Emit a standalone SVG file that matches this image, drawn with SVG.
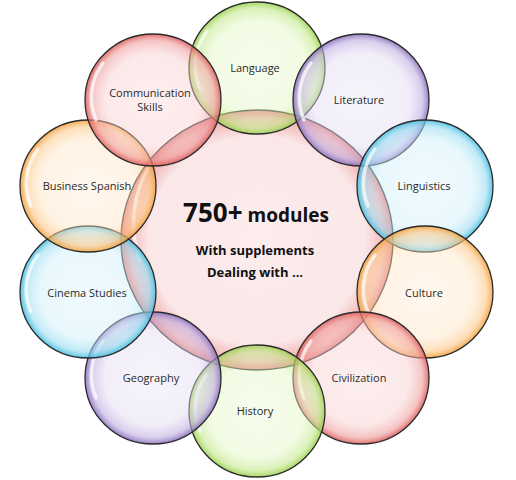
<svg xmlns="http://www.w3.org/2000/svg" width="516" height="480" viewBox="0 0 516 480">
<style>
.b{stroke:#2b2b2b;stroke-width:1.3}
.hl{fill:none;stroke:#ffffff;stroke-width:3.5;stroke-opacity:0.7;stroke-linecap:round}
.lbl{font-family:"Open Sans","Liberation Sans",sans-serif;font-size:11px;fill:#2a2a2a;text-anchor:middle}
.big{font-family:"Open Sans","Liberation Sans",sans-serif;font-weight:bold;fill:#111;text-anchor:middle}
</style>
<defs>
<radialGradient id="gG"><stop offset="0" stop-color="#ecfad6" stop-opacity="0.45"/><stop offset="0.7" stop-color="#e2f6c2" stop-opacity="0.45"/><stop offset="0.9" stop-color="#c2e88a" stop-opacity="0.6"/><stop offset="1" stop-color="#98cf4a" stop-opacity="0.85"/></radialGradient>
<radialGradient id="gP"><stop offset="0" stop-color="#ece6f6" stop-opacity="0.45"/><stop offset="0.7" stop-color="#e2daf2" stop-opacity="0.45"/><stop offset="0.9" stop-color="#bfaee0" stop-opacity="0.6"/><stop offset="1" stop-color="#8669bd" stop-opacity="0.85"/></radialGradient>
<radialGradient id="gC"><stop offset="0" stop-color="#def5fc" stop-opacity="0.45"/><stop offset="0.7" stop-color="#cdeffa" stop-opacity="0.45"/><stop offset="0.9" stop-color="#98dcf0" stop-opacity="0.6"/><stop offset="1" stop-color="#3cbbe0" stop-opacity="0.85"/></radialGradient>
<radialGradient id="gO"><stop offset="0" stop-color="#ffeedb" stop-opacity="0.45"/><stop offset="0.7" stop-color="#ffe4c2" stop-opacity="0.45"/><stop offset="0.9" stop-color="#fcc888" stop-opacity="0.6"/><stop offset="1" stop-color="#f59d35" stop-opacity="0.85"/></radialGradient>
<radialGradient id="gR"><stop offset="0" stop-color="#fbdcdc" stop-opacity="0.45"/><stop offset="0.7" stop-color="#f8cdcd" stop-opacity="0.45"/><stop offset="0.9" stop-color="#ef9d9d" stop-opacity="0.6"/><stop offset="1" stop-color="#dc5858" stop-opacity="0.85"/></radialGradient>
<radialGradient id="gM"><stop offset="0" stop-color="#fcebec" stop-opacity="0.9"/><stop offset="0.8" stop-color="#fae3e4" stop-opacity="0.85"/><stop offset="0.93" stop-color="#f1a9a9" stop-opacity="0.8"/><stop offset="1" stop-color="#df6b6b" stop-opacity="0.9"/></radialGradient>
<path id="hl" d="M -50,-37 A 60 58 0 0 0 -57,20"/>
</defs>
<rect width="516" height="480" fill="#ffffff"/>
<g id="n-center">
<ellipse class="b" cx="257" cy="240" rx="136" ry="130" fill="url(#gM)"/>
<path class="hl" d="M 150,165 A 120 115 0 0 0 140,260" stroke-opacity="0.5"/>
<text class="big" x="256" y="222"><tspan font-size="26">750+</tspan><tspan font-size="19"> modules</tspan></text>
<text class="big" x="255" y="255" font-size="13">With supplements</text>
<text class="big" x="255" y="277" font-size="13">Dealing with ...</text>
</g>
<g id="n-language">
<ellipse class="b" cx="257" cy="68" rx="68" ry="66" fill="url(#gG)"/>
<use class="hl" href="#hl" transform="translate(257,68)"/>
<text class="lbl" x="255" y="72">Language</text>
</g>
<g id="n-literature">
<ellipse class="b" cx="361" cy="100" rx="68" ry="66" fill="url(#gP)"/>
<use class="hl" href="#hl" transform="translate(361,100)"/>
<text class="lbl" x="359" y="104">Literature</text>
</g>
<g id="n-linguistics">
<ellipse class="b" cx="425" cy="186" rx="68" ry="66" fill="url(#gC)"/>
<use class="hl" href="#hl" transform="translate(425,186)"/>
<text class="lbl" x="424" y="190">Linguistics</text>
</g>
<g id="n-culture">
<ellipse class="b" cx="425" cy="292" rx="68" ry="66" fill="url(#gO)"/>
<use class="hl" href="#hl" transform="translate(425,292)"/>
<text class="lbl" x="424" y="297">Culture</text>
</g>
<g id="n-civilization">
<ellipse class="b" cx="361" cy="378" rx="68" ry="66" fill="url(#gR)"/>
<use class="hl" href="#hl" transform="translate(361,378)"/>
<text class="lbl" x="359" y="382">Civilization</text>
</g>
<g id="n-history">
<ellipse class="b" cx="257" cy="411" rx="68" ry="66" fill="url(#gG)"/>
<use class="hl" href="#hl" transform="translate(257,411)"/>
<text class="lbl" x="255" y="415">History</text>
</g>
<g id="n-geography">
<ellipse class="b" cx="153" cy="378" rx="68" ry="66" fill="url(#gP)"/>
<use class="hl" href="#hl" transform="translate(153,378)"/>
<text class="lbl" x="151" y="382">Geography</text>
</g>
<g id="n-cinema">
<ellipse class="b" cx="88" cy="292" rx="68" ry="66" fill="url(#gC)"/>
<use class="hl" href="#hl" transform="translate(88,292)"/>
<text class="lbl" x="87" y="297">Cinema Studies</text>
</g>
<g id="n-business">
<ellipse class="b" cx="88" cy="186" rx="68" ry="66" fill="url(#gO)"/>
<use class="hl" href="#hl" transform="translate(88,186)"/>
<text class="lbl" x="87" y="190">Business Spanish</text>
</g>
<g id="n-communication">
<ellipse class="b" cx="153" cy="100" rx="68" ry="66" fill="url(#gR)"/>
<use class="hl" href="#hl" transform="translate(153,100)"/>
<text class="lbl" x="150" y="97">Communication</text>
<text class="lbl" x="150" y="111">Skills</text>
</g>
</svg>
